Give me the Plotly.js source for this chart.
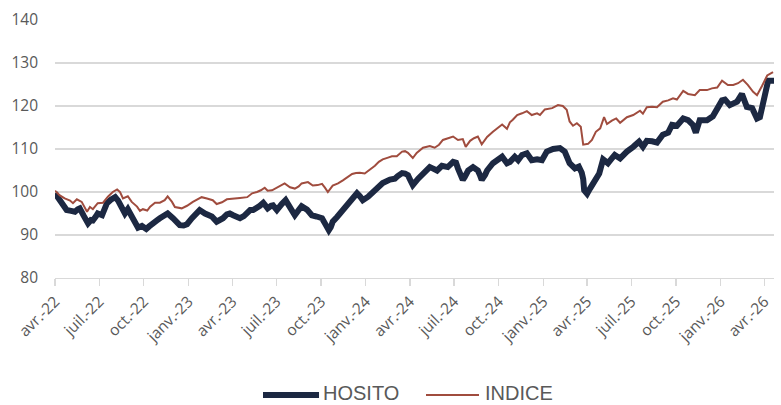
<!DOCTYPE html>
<html>
<head>
<meta charset="utf-8">
<script src="https://cdn.plot.ly/plotly-3.0.1.min.js"></script>
<style>html,body{margin:0;padding:0;background:#fff;}#chart{width:781px;height:405px;}</style>
</head>
<body>
<div id="chart"></div>
<script>
var hositoDates = ['2022-04-01','2022-04-07','2022-04-11','2022-04-17','2022-04-25','2022-05-04','2022-05-12','2022-05-18','2022-05-22','2022-05-30','2022-06-08','2022-06-14','2022-06-18','2022-06-24','2022-06-28','2022-07-07','2022-07-13','2022-07-17','2022-07-25','2022-08-03','2022-08-09','2022-08-17','2022-08-23','2022-08-29','2022-09-05','2022-09-08','2022-09-14','2022-09-19','2022-09-27','2022-10-06','2022-10-12','2022-10-18','2022-10-28','2022-11-03','2022-11-11','2022-11-19','2022-11-30','2022-12-08','2022-12-14','2022-12-22','2022-12-29','2023-01-08','2023-01-16','2023-01-24','2023-02-04','2023-02-12','2023-02-18','2023-02-28','2023-03-07','2023-03-13','2023-03-21','2023-03-27','2023-04-03','2023-04-11','2023-04-17','2023-04-25','2023-05-02','2023-05-08','2023-05-14','2023-05-22','2023-05-28','2023-06-04','2023-06-09','2023-06-13','2023-06-20','2023-06-24','2023-07-02','2023-07-08','2023-07-12','2023-07-20','2023-07-29','2023-08-04','2023-08-08','2023-08-16','2023-08-22','2023-09-02','2023-09-12','2023-09-22','2023-10-03','2023-10-09','2023-10-17','2023-10-21','2023-10-25','2023-11-03','2023-11-09','2023-11-17','2023-11-23','2023-12-04','2023-12-10','2023-12-14','2023-12-20','2023-12-26','2024-01-06','2024-01-14','2024-01-26','2024-02-05','2024-02-20','2024-03-01','2024-03-07','2024-03-16','2024-03-22','2024-03-28','2024-04-03','2024-04-07','2024-04-18','2024-04-24','2024-05-02','2024-05-12','2024-05-18','2024-05-27','2024-06-06','2024-06-18','2024-06-29','2024-07-05','2024-07-09','2024-07-15','2024-07-19','2024-07-23','2024-07-30','2024-08-09','2024-08-19','2024-08-23','2024-08-27','2024-09-03','2024-09-07','2024-09-19','2024-09-29','2024-10-08','2024-10-18','2024-10-24','2024-11-03','2024-11-10','2024-11-18','2024-11-28','2024-12-08','2024-12-19','2024-12-29','2025-01-08','2025-01-21','2025-02-04','2025-02-14','2025-02-20','2025-02-24','2025-03-07','2025-03-15','2025-03-21','2025-03-24','2025-03-26','2025-04-01','2025-04-07','2025-04-11','2025-04-19','2025-04-26','2025-05-04','2025-05-14','2025-05-22','2025-05-28','2025-06-08','2025-06-14','2025-06-22','2025-07-05','2025-07-17','2025-07-25','2025-08-02','2025-08-13','2025-08-23','2025-09-04','2025-09-15','2025-09-23','2025-10-03','2025-10-16','2025-10-26','2025-11-05','2025-11-11','2025-11-19','2025-12-04','2025-12-16','2025-12-27','2026-01-04','2026-01-10','2026-01-20','2026-02-04','2026-02-14','2026-02-20','2026-02-24','2026-03-07','2026-03-17','2026-03-23','2026-03-27','2026-04-03','2026-04-09','2026-04-21'];
var hositoValues = [99.7,98.8,98.1,97.0,95.8,95.6,95.4,96.0,96.2,94.5,92.7,93.5,93.4,94.3,95.0,94.6,96.2,97.4,98.2,98.8,98.0,96.6,95.0,96.0,94.6,93.4,92.3,91.7,92.1,91.4,92.0,92.7,93.4,93.9,94.3,95.0,93.9,92.9,92.3,92.2,92.5,93.9,94.8,95.8,95.0,94.6,94.3,93.1,93.4,93.9,94.8,95.0,94.6,94.2,93.9,94.4,95.0,95.8,95.8,96.2,96.8,97.5,97.0,96.2,96.8,96.9,95.8,96.8,97.2,98.1,96.6,95.5,94.6,95.8,96.7,95.9,94.6,94.3,93.9,92.7,91.1,91.8,93.1,94.2,95.0,95.8,96.6,98.1,99.3,99.7,99.0,98.1,98.9,99.7,100.8,102.1,102.9,103.1,103.7,104.4,104.3,103.9,102.5,101.6,103.1,103.8,104.6,105.8,105.5,105.0,106.1,105.8,107.0,106.8,105.5,104.0,102.8,103.5,105.0,105.8,105.0,104.0,102.8,104.0,105.0,106.7,107.4,108.2,106.7,107.0,108.2,107.4,108.6,109.0,107.4,107.6,107.4,109.4,110.0,110.2,109.4,108.0,106.7,105.5,105.9,104.5,103.0,100.4,99.6,100.8,101.6,103.2,104.3,107.6,106.7,107.8,108.6,107.8,108.6,109.4,110.5,111.7,110.5,111.9,111.8,111.5,113.3,113.8,115.6,115.4,117.1,116.7,115.6,113.8,116.7,116.7,117.6,120.2,121.3,121.5,120.2,121.0,122.8,121.0,119.8,119.5,117.1,117.4,119.5,123.5,125.9,125.9];

var indiceDates = ['2022-04-01','2022-04-11','2022-04-21','2022-05-02','2022-05-08','2022-05-16','2022-05-26','2022-06-06','2022-06-12','2022-06-18','2022-06-28','2022-07-09','2022-07-19','2022-07-29','2022-08-07','2022-08-13','2022-08-19','2022-08-29','2022-09-06','2022-09-17','2022-09-23','2022-09-29','2022-10-08','2022-10-14','2022-10-24','2022-11-03','2022-11-13','2022-11-19','2022-11-28','2022-12-04','2022-12-18','2022-12-29','2023-01-10','2023-01-18','2023-01-28','2023-02-08','2023-02-20','2023-02-28','2023-03-11','2023-03-21','2023-04-02','2023-04-17','2023-05-02','2023-05-12','2023-05-22','2023-05-30','2023-06-07','2023-06-13','2023-06-22','2023-07-02','2023-07-10','2023-07-18','2023-07-29','2023-08-08','2023-08-16','2023-08-22','2023-09-04','2023-09-14','2023-09-24','2023-10-03','2023-10-09','2023-10-15','2023-10-25','2023-11-05','2023-11-15','2023-11-25','2023-12-04','2023-12-12','2023-12-20','2023-12-30','2024-01-10','2024-01-20','2024-01-28','2024-02-05','2024-02-16','2024-02-24','2024-03-05','2024-03-16','2024-03-22','2024-03-28','2024-04-07','2024-04-15','2024-04-28','2024-05-06','2024-05-12','2024-05-22','2024-05-31','2024-06-08','2024-06-18','2024-06-29','2024-07-09','2024-07-19','2024-07-25','2024-08-03','2024-08-11','2024-08-19','2024-08-27','2024-09-07','2024-09-19','2024-09-29','2024-10-08','2024-10-18','2024-10-24','2024-10-30','2024-11-08','2024-11-18','2024-11-28','2024-12-08','2024-12-19','2024-12-25','2025-01-04','2025-01-19','2025-01-31','2025-02-10','2025-02-18','2025-02-24','2025-03-03','2025-03-11','2025-03-19','2025-03-24','2025-04-03','2025-04-11','2025-04-19','2025-04-28','2025-05-06','2025-05-12','2025-05-22','2025-05-31','2025-06-08','2025-06-22','2025-07-05','2025-07-19','2025-07-25','2025-08-02','2025-08-13','2025-08-23','2025-09-04','2025-09-15','2025-09-25','2025-10-03','2025-10-16','2025-10-26','2025-11-09','2025-11-19','2025-12-04','2025-12-14','2025-12-25','2026-01-04','2026-01-16','2026-01-27','2026-02-06','2026-02-16','2026-02-26','2026-03-09','2026-03-17','2026-03-27','2026-04-07','2026-04-19'];
var indiceValues = [100.3,99.2,98.5,98.0,97.4,98.3,97.7,95.4,96.5,96.0,97.4,97.5,98.9,100.0,100.6,100.0,98.5,99.0,97.7,96.6,95.6,96.0,95.7,96.6,97.5,97.5,98.1,99.0,97.7,96.5,96.2,96.8,97.7,98.2,98.8,98.5,98.1,97.2,97.6,98.3,98.5,98.6,98.8,99.7,100.0,100.4,101.0,100.3,100.4,101.0,101.5,102.0,101.1,100.8,101.3,102.0,102.3,101.5,101.6,101.9,101.0,100.0,101.5,102.0,102.7,103.5,104.2,104.4,104.5,104.3,105.2,106.1,107.0,107.6,108.0,108.3,108.3,109.4,109.5,109.1,107.9,109.1,110.3,110.5,110.7,110.3,111.0,112.1,112.4,112.9,112.1,112.3,110.5,111.9,112.5,112.9,111.1,112.8,114.0,114.8,115.7,114.7,116.2,116.8,117.9,118.3,118.8,117.9,118.3,117.9,119.2,119.5,120.2,120.0,119.1,116.4,115.4,116.0,115.2,111.0,111.2,112.1,114.0,114.8,117.4,115.8,116.6,117.1,116.1,117.4,117.9,118.9,118.2,119.7,119.8,119.7,121.0,121.3,121.8,121.5,123.5,122.8,122.5,123.7,123.7,124.1,124.3,125.9,124.9,124.9,125.3,126.1,124.9,123.3,122.5,124.6,127.1,127.9];

var tickDates = ['2022-04-01','2022-07-01','2022-10-01','2023-01-01','2023-04-01','2023-07-01','2023-10-01','2024-01-01','2024-04-01','2024-07-01','2024-10-01','2025-01-01','2025-04-01','2025-07-01','2025-10-01','2026-01-01','2026-04-01'];
var tickLabels = ['avr.-22','juil.-22','oct.-22','janv.-23','avr.-23','juil.-23','oct.-23','janv.-24','avr.-24','juil.-24','oct.-24','janv.-25','avr.-25','juil.-25','oct.-25','janv.-26','avr.-26'];
var seriesNames = ['HOSITO','INDICE'];
var seriesColors = ['#1c2842','#a04c3e'];

var FONT = 'Open Sans, sans-serif';
var LEGFONT = 'Liberation Sans, Arial, sans-serif';
var GREY = '#595959';

var traces = [
  {x: hositoDates, y: hositoValues, name: seriesNames[0], type: 'scatter', mode: 'lines',
   line: {color: seriesColors[0], width: 6, shape: 'linear'}},
  {x: indiceDates, y: indiceValues, name: seriesNames[1], type: 'scatter', mode: 'lines',
   line: {color: seriesColors[1], width: 2}}
];

var lineY = -0.4535;
var textY = -0.4457;
var layout = {
  width: 781, height: 405,
  margin: {l: 55, r: 7, t: 20, b: 127, autoexpand: false},
  paper_bgcolor: '#ffffff', plot_bgcolor: '#ffffff',
  font: {family: FONT, color: GREY},
  showlegend: false,
  xaxis: {
    type: 'date',
    range: ['2022-04-01', '2026-04-21'],
    tickmode: 'array', tickvals: tickDates, ticktext: tickLabels,
    tickangle: -45,
    tickfont: {family: FONT, size: 15.5, color: GREY},
    ticks: 'outside', ticklen: 7, tickwidth: 1.3, tickcolor: '#d9d9d9',
    showgrid: false, showline: true, linecolor: '#d9d9d9', linewidth: 1.3,
    zeroline: false
  },
  yaxis: {
    range: [80, 140], tickvals: [80, 90, 100, 110, 120, 130, 140],
    tickfont: {family: FONT, size: 15.5, color: GREY},
    showgrid: true, gridcolor: '#d9d9d9', gridwidth: 1.3,
    zeroline: false, showline: false, ticks: '', ticklabelstandoff: 16
  },
  shapes: [
    {type: 'line', xref: 'paper', yref: 'paper', x0: 0.2893, x1: 0.3672, y0: lineY, y1: lineY,
     line: {color: seriesColors[0], width: 6}},
    {type: 'line', xref: 'paper', yref: 'paper', x0: 0.516, x1: 0.5897, y0: lineY, y1: lineY,
     line: {color: seriesColors[1], width: 2}}
  ],
  annotations: [
    {xref: 'paper', yref: 'paper', x: 0.370, y: textY, xanchor: 'left', yanchor: 'middle',
     text: seriesNames[0], showarrow: false, font: {family: LEGFONT, size: 20, color: GREY}},
    {xref: 'paper', yref: 'paper', x: 0.595, y: textY, xanchor: 'left', yanchor: 'middle',
     text: seriesNames[1], showarrow: false, font: {family: LEGFONT, size: 20, color: GREY}}
  ]
};

Plotly.newPlot('chart', traces, layout, {displayModeBar: false, staticPlot: true});
</script>
</body>
</html>
